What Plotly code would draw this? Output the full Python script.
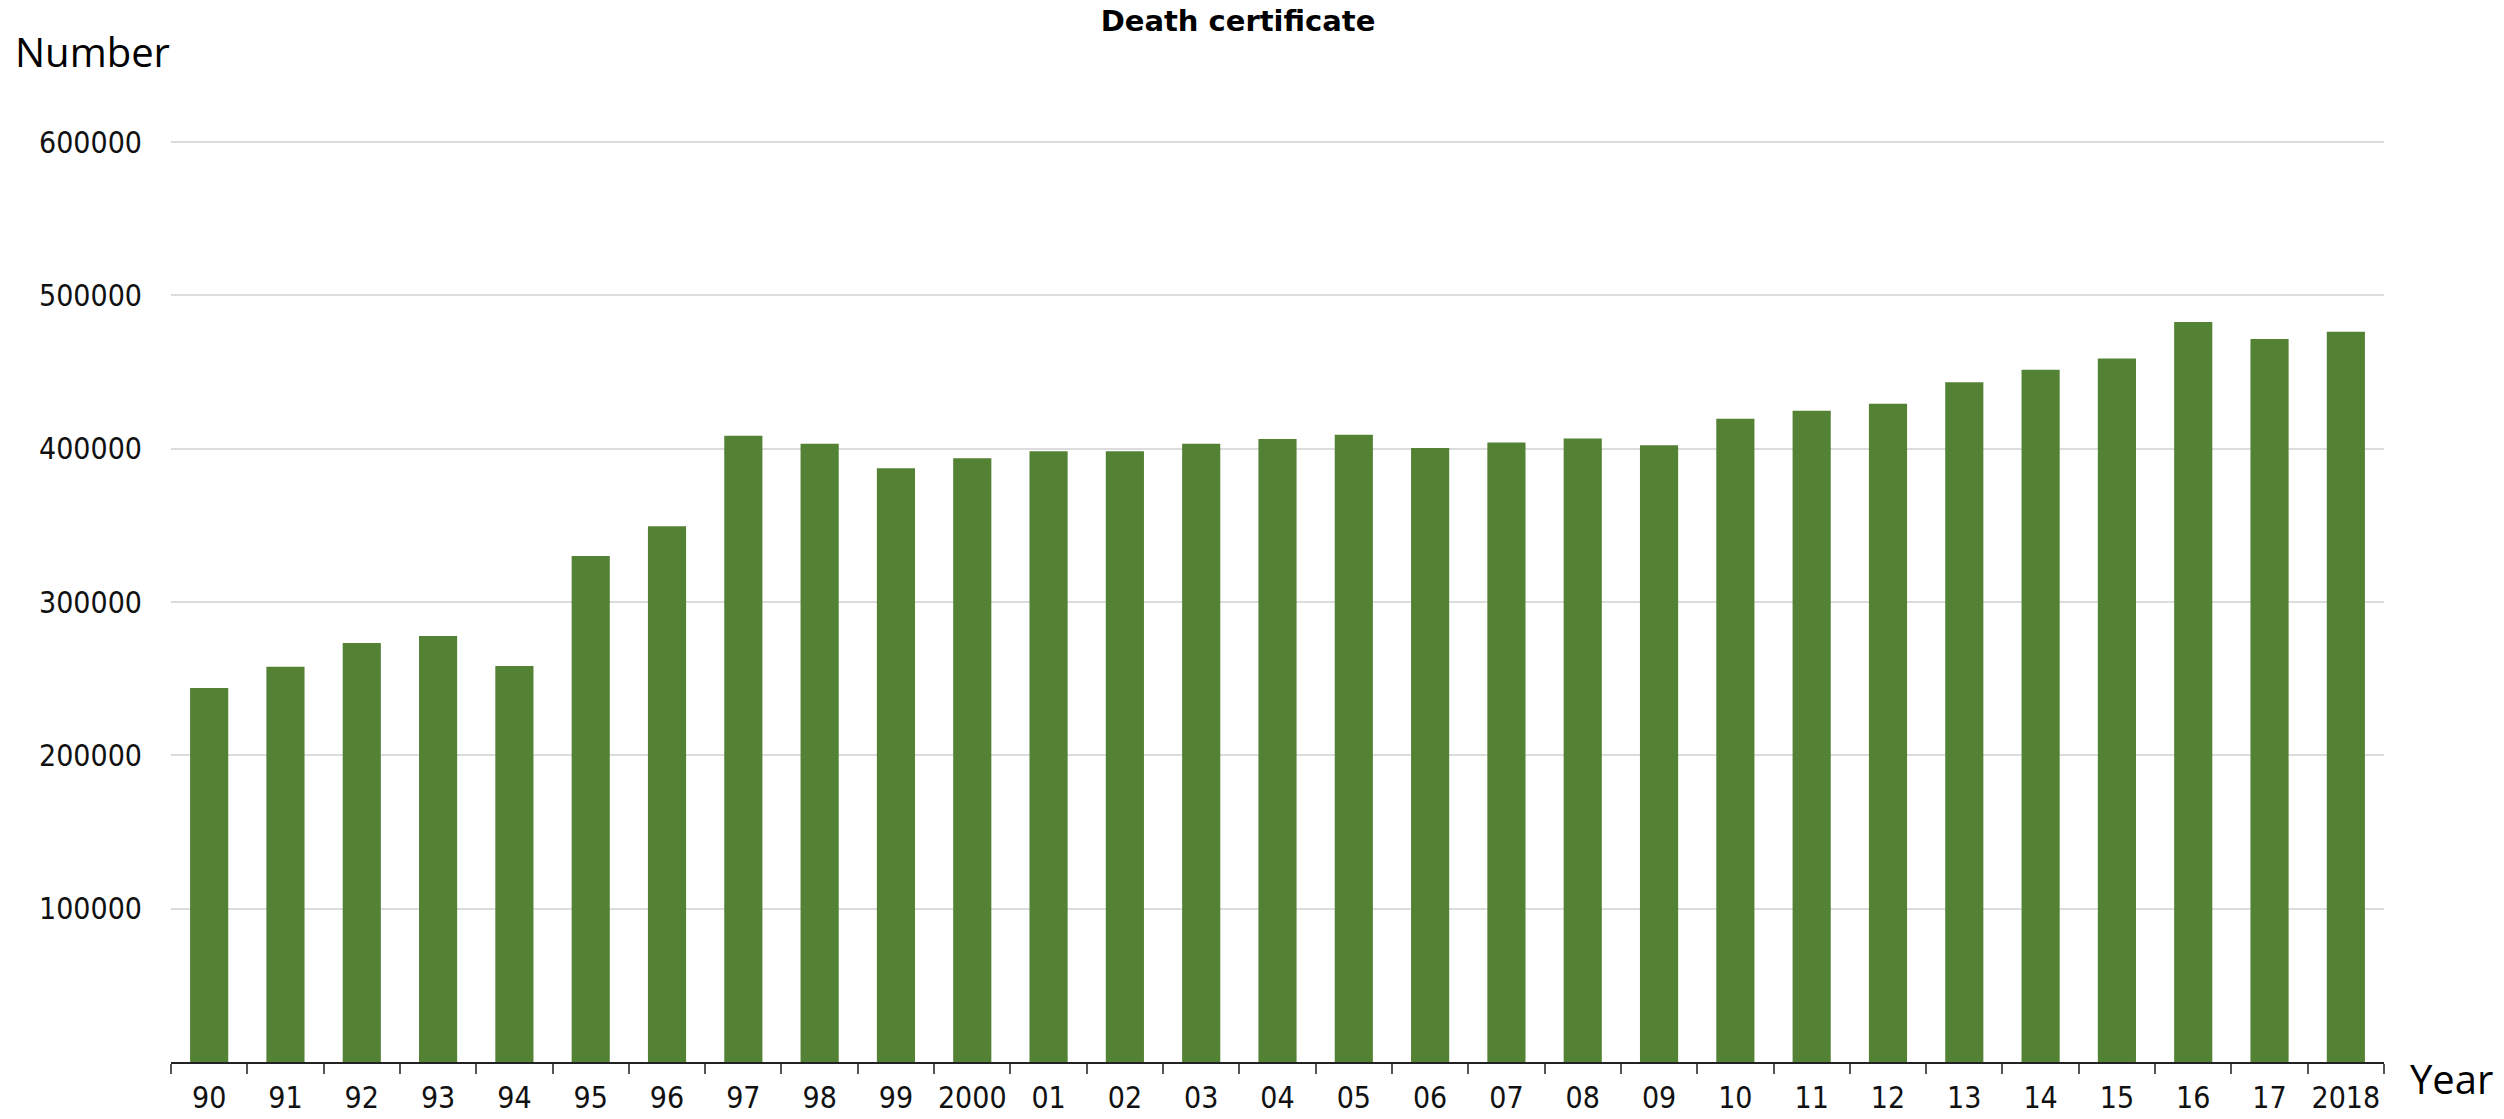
import plotly.graph_objects as go

# ---- data ----
years = ["90", "91", "92", "93", "94", "95", "96", "97", "98", "99", "2000",
         "01", "02", "03", "04", "05", "06", "07", "08", "09", "10",
         "11", "12", "13", "14", "15", "16", "17", "2018"]
deaths = [243900, 257800, 273200, 277900, 258200, 330100, 349400, 408400,
          403300, 387200, 393700, 398300, 398300, 403300, 406300, 409100,
          400400, 404100, 406700, 402200, 419600, 424800, 429300, 443300,
          451500, 458900, 482600, 471500, 476300]
y_ticks = [100000, 200000, 300000, 400000, 500000, 600000]
y_ticklabels = ["100000", "200000", "300000", "400000", "500000", "600000"]

BAR_COLOR = "#548235"
TICK_FONT = dict(family="DejaVu Sans Condensed, DejaVu Sans, sans-serif", size=30, color="#111111")

fig = go.Figure(
    go.Bar(
        x=years,
        y=deaths,
        marker=dict(color=BAR_COLOR, line=dict(width=0)),
        hoverinfo="x+y",
    )
)

W, H = 2504, 1119
L, R, T, B = 171, 120, 139, 57
Y_MAX = 602000

fig.update_layout(
    width=W,
    height=H,
    margin=dict(l=L, r=R, t=T, b=B, autoexpand=False),
    paper_bgcolor="white",
    plot_bgcolor="white",
    bargap=0.5,
    showlegend=False,
    title=dict(
        text="<b>Death certificate</b>",
        font=dict(family="DejaVu Sans, Verdana, sans-serif", size=29, color="#000000"),
        x=1238 / W,
        xanchor="center",
        xref="container",
        y=1 - 21 / H,
        yanchor="middle",
        yref="container",
    ),
    xaxis=dict(
        type="category",
        range=[-0.5, len(years) - 0.5],
        showline=True,
        linecolor="#222222",
        linewidth=2,
        ticks="outside",
        tickson="boundaries",
        ticklen=10,
        tickwidth=1.5,
        tickcolor="#555555",
        tickfont=TICK_FONT,
        tickangle=0,
        ticklabelstandoff=8,
        showgrid=False,
        automargin=False,
        fixedrange=True,
    ),
    yaxis=dict(
        range=[0, Y_MAX],
        tickvals=y_ticks,
        ticktext=y_ticklabels,
        tickfont=TICK_FONT,
        showgrid=True,
        gridcolor="#dcdcdc",
        gridwidth=1.5,
        zeroline=False,
        showline=False,
        ticks="",
        ticklabelstandoff=28,
        automargin=False,
        fixedrange=True,
    ),
    annotations=[
        dict(
            text="Number",
            xref="paper", yref="paper",
            x=(13 - L) / (W - L - R),
            y=(H - B - 51) / (H - T - B),
            xanchor="left", yanchor="middle",
            showarrow=False,
            font=dict(family="Open Sans, sans-serif", size=40, color="#000000"),
        ),
        dict(
            text="Year",
            xref="paper", yref="paper",
            x=(2408 - L) / (W - L - R),
            y=(H - B - 1078) / (H - T - B),
            xanchor="left", yanchor="middle",
            showarrow=False,
            font=dict(family="Open Sans, sans-serif", size=40, color="#000000"),
        ),
    ],
)

fig.write_html(
    "out.html",
    config={"displayModeBar": False, "responsive": False},
    post_script="document.body.style.margin='0';",
)
